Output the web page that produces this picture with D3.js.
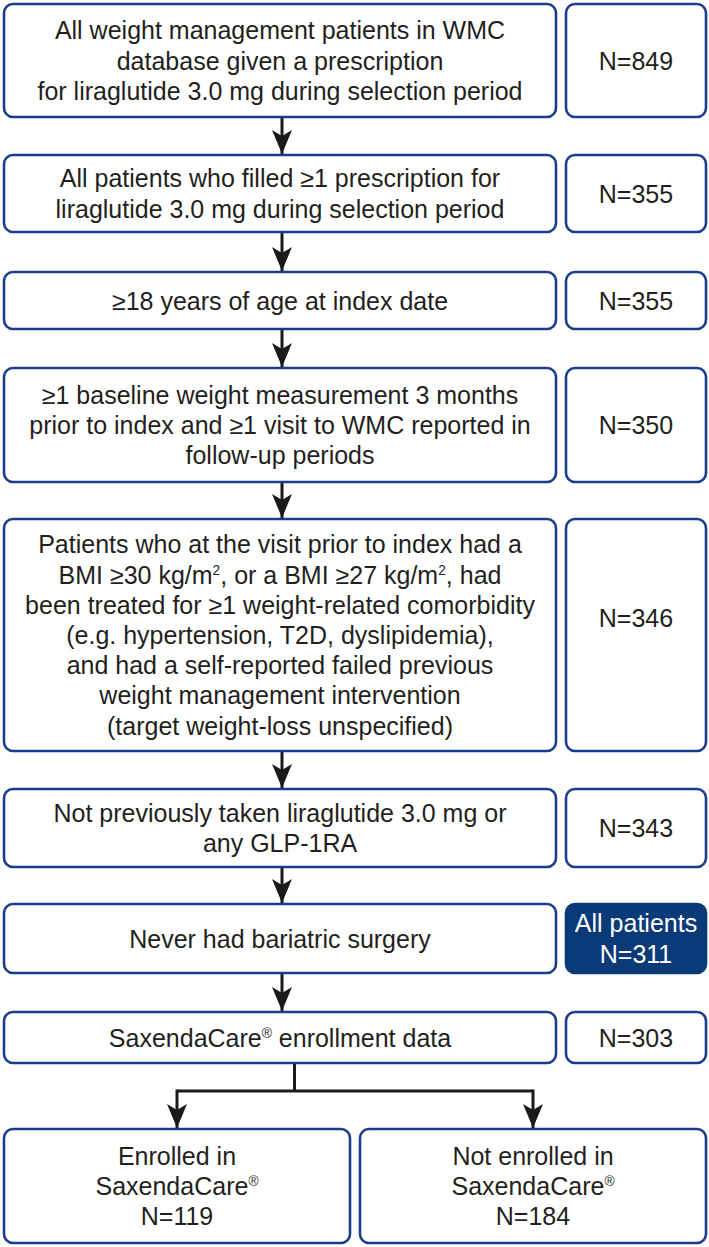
<!DOCTYPE html>
<html>
<head>
<meta charset="utf-8">
<script src="https://cdn.jsdelivr.net/npm/d3@7"></script>
<style>
  html, body { margin: 0; padding: 0; background: #fff; }
  svg { display: block; }
</style>
</head>
<body>
<svg id="chart" width="709" height="1247"></svg>
<script>
// ---------- DATA ----------
const stepLines = [
  ["All weight management patients in WMC", "database given a prescription", "for liraglutide 3.0 mg during selection period"],
  ["All patients who filled \u22651 prescription for", "liraglutide 3.0 mg during selection period"],
  ["\u226518 years of age at index date"],
  ["\u22651 baseline weight measurement 3 months", "prior to index and \u22651 visit to WMC reported in", "follow-up periods"],
  ["Patients who at the visit prior to index had a", "BMI \u226530 kg/m{2}, or a BMI \u226527 kg/m{2}, had", "been treated for \u22651 weight-related comorbidity", "(e.g. hypertension, T2D, dyslipidemia),", "and had a self-reported failed previous", "weight management intervention", "(target weight-loss unspecified)"],
  ["Not previously taken liraglutide 3.0 mg or", "any GLP-1RA"],
  ["Never had bariatric surgery"],
  ["SaxendaCare{\u00ae} enrollment data"]
];
const stepCounts = ["N=849", "N=355", "N=355", "N=350", "N=346", "N=343", "N=311", "N=303"];
const countLabels = ["", "", "", "", "", "", "All patients", ""];
const highlighted = [false, false, false, false, false, false, true, false];
const groupLines = [
  ["Enrolled in", "SaxendaCare{\u00ae}"],
  ["Not enrolled in", "SaxendaCare{\u00ae}"]
];
const groupCounts = ["N=119", "N=184"];

// ---------- LAYOUT ----------
const boxTop = [4, 155, 272, 368, 519, 789, 904, 1012];
const boxBottom = [117, 232, 329, 482, 751, 867, 973, 1063];
const countOffset = [0, 0, 0, 0, -17, 0, 0, 0];
const groupTop = 1129, groupBottom = 1243;
const leftX0 = 4, leftX1 = 556, rightX0 = 566, rightX1 = 706;
const lineH = 30.2;
const navy = "#1b3d8d", fillNavy = "#0b3a78", ink = "#231f20";
const font = "'Liberation Sans', Arial, Helvetica, sans-serif";
const fs = 25;

const svg = d3.select("#chart");

// arrow marker
const defs = svg.append("defs");
defs.append("marker")
  .attr("id", "arrow")
  .attr("viewBox", "0 0 20 24")
  .attr("refX", 10).attr("refY", 24)
  .attr("markerWidth", 20).attr("markerHeight", 24)
  .attr("markerUnits", "userSpaceOnUse")
  .attr("orient", "0")
  .append("path")
  .attr("d", "M0,0 L10,6 L20,0 L10,24 Z")
  .attr("fill", "#1a1a1a");

function addLines(g, lines, cx, cy, color, size) {
  const n = lines.length;
  const t = g.append("text")
    .attr("text-anchor", "middle")
    .attr("font-family", font)
    .attr("font-size", size)
    .attr("fill", color);
  lines.forEach((ln, i) => {
    const y = cy + (i - (n - 1) / 2) * lineH;
    const parts = ln.split(/(\{[^}]*\})/).filter(p => p.length);
    let back = 0;
    parts.forEach((p, j) => {
      const ts = t.append("tspan");
      if (j === 0) ts.attr("x", cx).attr("y", y + size * 0.36);
      if (p.startsWith("{")) {
        const sup = size * 0.55;
        ts.attr("font-size", sup).attr("dy", -size * 0.36).text(p.slice(1, -1));
        back = size * 0.36;
      } else {
        if (back) ts.attr("dy", back);
        back = 0;
        ts.text(p);
      }
    });
  });
}

// connectors
const arrowX = 282;
const connectors = svg.append("g").attr("stroke", "#1a1a1a").attr("stroke-width", 3).attr("fill", "none");
d3.range(boxTop.length - 1).forEach(i => {
  connectors.append("line")
    .attr("x1", arrowX).attr("x2", arrowX)
    .attr("y1", boxBottom[i] + 1).attr("y2", boxTop[i + 1] - 1)
    .attr("marker-end", "url(#arrow)");
});

// split connector
const splitX = 294.5;
const splitY = 1091;
const groupX = [[leftX0, 350], [360, rightX1]];
const groupCx = groupX.map(d => (d[0] + d[1]) / 2);
connectors.append("path")
  .attr("d", `M${splitX},${boxBottom[7] + 1} V${splitY} M${groupCx[0]},${splitY} H${groupCx[1]}`);
groupCx.forEach(cx => {
  connectors.append("line")
    .attr("x1", cx).attr("x2", cx)
    .attr("y1", splitY - 1.5).attr("y2", groupTop - 1)
    .attr("marker-end", "url(#arrow)");
});

// step boxes
const steps = svg.append("g");
stepLines.forEach((lines, i) => {
  const g = steps.append("g");
  const y0 = boxTop[i], y1 = boxBottom[i];
  g.append("rect")
    .attr("x", leftX0).attr("y", y0)
    .attr("width", leftX1 - leftX0).attr("height", y1 - y0)
    .attr("rx", 9).attr("ry", 9)
    .attr("fill", "#fff").attr("stroke", navy).attr("stroke-width", 2.6);
  addLines(g, lines, (leftX0 + leftX1) / 2, (y0 + y1) / 2, ink, fs);

  const hl = highlighted[i];
  g.append("rect")
    .attr("x", rightX0).attr("y", y0)
    .attr("width", rightX1 - rightX0).attr("height", y1 - y0)
    .attr("rx", 9).attr("ry", 9)
    .attr("fill", hl ? fillNavy : "#fff").attr("stroke", hl ? fillNavy : navy).attr("stroke-width", 2.6);
  const cl = countLabels[i] ? [countLabels[i], stepCounts[i]] : [stepCounts[i]];
  addLines(g, cl, (rightX0 + rightX1) / 2, (y0 + y1) / 2 + countOffset[i], hl ? "#fff" : ink, fs);
});

// group boxes
groupLines.forEach((lines, i) => {
  const g = svg.append("g");
  const [x0, x1] = groupX[i];
  g.append("rect")
    .attr("x", x0).attr("y", groupTop)
    .attr("width", x1 - x0).attr("height", groupBottom - groupTop)
    .attr("rx", 9).attr("ry", 9)
    .attr("fill", "#fff").attr("stroke", navy).attr("stroke-width", 2.6);
  addLines(g, lines.concat([groupCounts[i]]), (x0 + x1) / 2, (groupTop + groupBottom) / 2, ink, fs);
});
</script>
</body>
</html>
